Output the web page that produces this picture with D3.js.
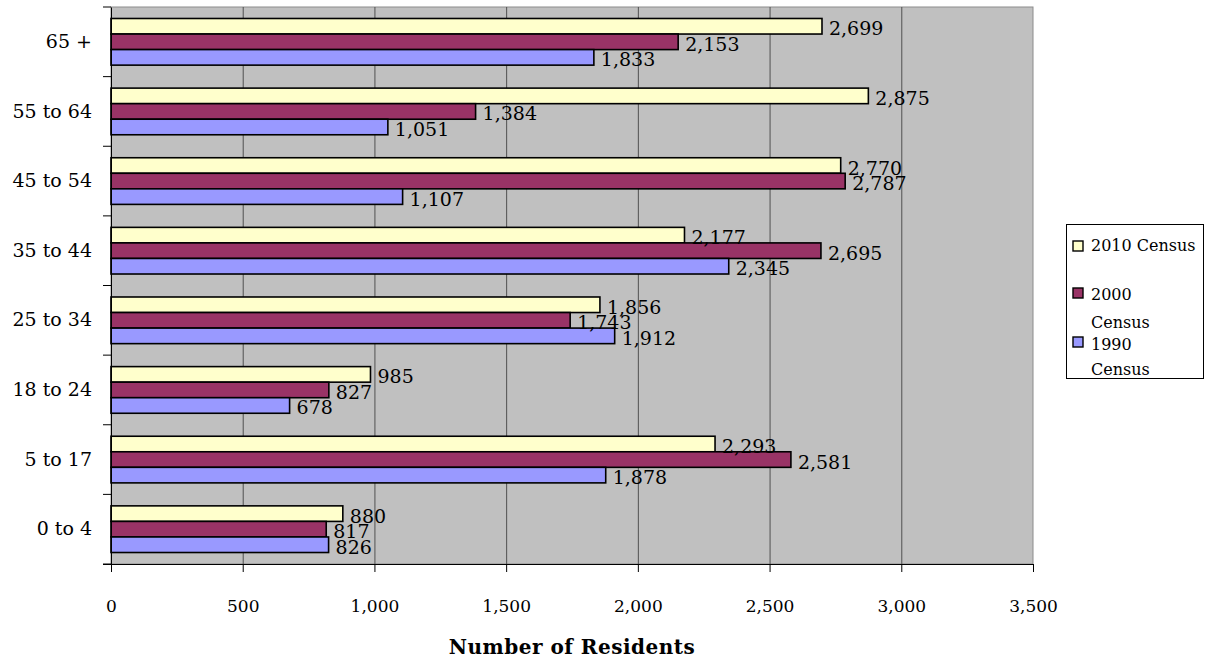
<!DOCTYPE html>
<html>
<head>
<meta charset="utf-8">
<script src="https://cdn.jsdelivr.net/npm/d3@7"></script>
<style>
  body { margin: 0; background: #fff; }
  svg text { font-family: "DejaVu Serif", "Liberation Serif", serif; fill: #000; }
</style>
</head>
<body>
<div id="chart"></div>
<script>
// categories top to bottom, as drawn
var ageGroups = ["65 +", "55 to 64", "45 to 54", "35 to 44", "25 to 34", "18 to 24", "5 to 17", "0 to 4"];
var seriesNames = ["2010 Census", "2000 Census", "1990 Census"];
var census2010 = [2699, 2875, 2770, 2177, 1856, 985, 2293, 880];
var census2000 = [2153, 1384, 2787, 2695, 1743, 827, 2581, 817];
var census1990 = [1833, 1051, 1107, 2345, 1912, 678, 1878, 826];
var xTicks = [0, 500, 1000, 1500, 2000, 2500, 3000, 3500];
var seriesColors = ["#FFFFCC", "#993366", "#9999FF"];

var width = 1213, height = 660;
var plot = {left: 111, right: 1033, top: 7, bottom: 564};

var svg = d3.select("#chart").append("svg")
    .attr("width", width)
    .attr("height", height);

var xScale = d3.scaleLinear()
    .domain([0, 3500])
    .range([plot.left, plot.right]);

var yScale = d3.scaleBand()
    .domain(ageGroups)
    .range([plot.top, plot.bottom])
    .paddingInner(0.33)
    .paddingOuter(0.165);

var inner = d3.scaleBand()
    .domain(seriesNames)
    .range([0, yScale.bandwidth()]);

var allSeries = [census2010, census2000, census1990];

// plot background
svg.append("rect")
    .attr("x", plot.left)
    .attr("y", plot.top)
    .attr("width", plot.right - plot.left)
    .attr("height", plot.bottom - plot.top)
    .attr("fill", "#C0C0C0")
    .attr("stroke", "#8c8c8c")
    .attr("stroke-width", 1);

// vertical gridlines
svg.append("g")
    .selectAll("line")
    .data(xTicks.slice(1, -1))
    .enter()
    .append("line")
    .attr("x1", d => xScale(d) + 0.5)
    .attr("x2", d => xScale(d) + 0.5)
    .attr("y1", plot.top)
    .attr("y2", plot.bottom)
    .attr("stroke", "#505050")
    .attr("stroke-width", 1);

// bars
seriesNames.forEach(function(name, si) {
    var vals = allSeries[si];
    var g = svg.append("g");
    g.selectAll("rect")
        .data(ageGroups)
        .enter()
        .append("rect")
        .attr("x", xScale(0))
        .attr("y", d => yScale(d) + inner(name))
        .attr("width", (d, i) => xScale(vals[i]) - xScale(0))
        .attr("height", inner.bandwidth())
        .attr("fill", seriesColors[si])
        .attr("stroke", "#000")
        .attr("stroke-width", 1.6);
});

// data labels
seriesNames.forEach(function(name, si) {
    var vals = allSeries[si];
    svg.append("g")
        .selectAll("text")
        .data(ageGroups)
        .enter()
        .append("text")
        .attr("x", (d, i) => xScale(vals[i]) + 7)
        .attr("y", d => yScale(d) + inner(name) + inner.bandwidth() / 2 + 2)
        .attr("dominant-baseline", "central")
        .style("font-size", "19px")
        .text((d, i) => d3.format(",")(vals[i]));
});

// x axis
var xAxis = svg.append("g")
    .attr("transform", "translate(0," + plot.bottom + ")")
    .call(d3.axisBottom(xScale)
        .tickValues(xTicks)
        .tickFormat(d3.format(","))
        .tickSize(8)
        .tickPadding(28)
        .tickSizeOuter(0));
xAxis.select(".domain").attr("d", "M" + (plot.left - 8) + ",0.5H" + plot.right).attr("stroke", "#000");
xAxis.selectAll(".tick line").attr("stroke", "#000");
xAxis.selectAll("text")
    .style("font-family", "'DejaVu Serif', serif")
    .style("font-size", "17px");

// y axis
var yAxis = svg.append("g")
    .attr("transform", "translate(" + plot.left + ",0)")
    .call(d3.axisLeft(yScale)
        .tickSize(0)
        .tickPadding(19));
yAxis.select(".domain").attr("stroke", "#000");
yAxis.selectAll("text")
    .style("font-family", "'DejaVu Serif', serif")
    .style("font-size", "19px");

// category boundary ticks
svg.append("g")
    .selectAll("line")
    .data(d3.range(ageGroups.length + 1))
    .enter()
    .append("line")
    .attr("x1", plot.left - 8)
    .attr("x2", plot.left)
    .attr("y1", i => plot.top + i * yScale.step())
    .attr("y2", i => plot.top + i * yScale.step())
    .attr("stroke", "#000");

// axis title
svg.append("text")
    .attr("x", 572)
    .attr("y", 654)
    .attr("text-anchor", "middle")
    .style("font-size", "20px")
    .style("font-weight", "bold")
    .style("letter-spacing", "0.5px")
    .text("Number of Residents");

// legend
var legend = svg.append("g");
legend.append("rect")
    .attr("x", 1066.5)
    .attr("y", 224.5)
    .attr("width", 137)
    .attr("height", 154)
    .attr("fill", "#fff")
    .attr("stroke", "#000");

var legendLines = [["2010 Census"], ["2000", "Census"], ["1990", "Census"]];
var legendSquareY = [241, 288, 337];
var legendTextY = [[251], [300, 328], [350, 375]];
legendLines.forEach(function(lines, i) {
    legend.append("rect")
        .attr("x", 1073)
        .attr("y", legendSquareY[i])
        .attr("width", 10)
        .attr("height", 10)
        .attr("fill", seriesColors[i])
        .attr("stroke", "#000")
        .attr("stroke-width", 1.4);
    lines.forEach(function(t, j) {
        legend.append("text")
            .attr("x", 1091)
            .attr("y", legendTextY[i][j])
            .style("font-size", "16px")
            .text(t);
    });
});
</script>
</body>
</html>
